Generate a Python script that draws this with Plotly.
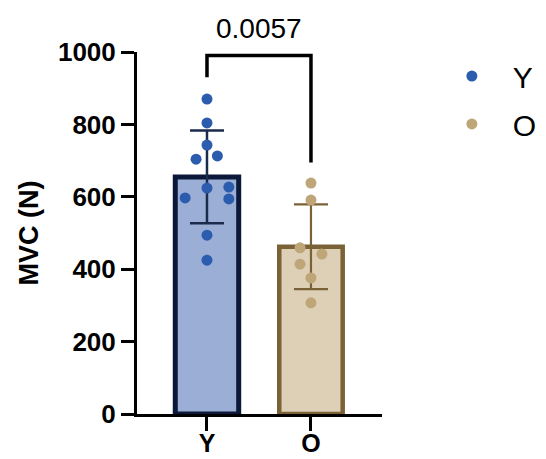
import plotly.graph_objects as go

# ---- data ----
groups = ["Y", "O"]
group_pos = [0, 1]
bar_means = [655, 462]
bar_sd = [128, 117]
y_points = [870, 804, 743, 704, 713, 624, 627, 597, 594, 494, 425]
o_points = [638, 591, 459, 442, 414, 376, 307]
p_value_label = "0.0057"
y_ticks = [0, 200, 400, 600, 800, 1000]

# jitter offsets (layout of dots, not values)
y_jitter = [0, 0, 0, -0.105, 0.1, 0, 0.21, -0.21, 0.21, 0, 0]
o_jitter = [0, 0, -0.105, 0.105, -0.105, 0, 0]

FONT = "Arial, Liberation Sans, Helvetica, sans-serif"
Y_FILL, Y_EDGE, Y_DOT = "#9AAED6", "#0B1839", "#2C5CAE"
O_FILL, O_EDGE, O_DOT = "#DDD0B6", "#7A6236", "#BFA678"

fig = go.Figure()

fig.add_trace(go.Bar(
    x=[group_pos[0]], y=[bar_means[0]], width=0.61,
    marker=dict(color=Y_FILL, line=dict(color=Y_EDGE, width=5)),
    error_y=dict(type="data", array=[bar_sd[0]], color="#1B2B4B", thickness=2.5, width=17),
    showlegend=False, hoverinfo="skip"))
fig.add_trace(go.Bar(
    x=[group_pos[1]], y=[bar_means[1]], width=0.61,
    marker=dict(color=O_FILL, line=dict(color=O_EDGE, width=4.5)),
    error_y=dict(type="data", array=[bar_sd[1]], color=O_EDGE, thickness=2.2, width=17),
    showlegend=False, hoverinfo="skip"))

fig.add_trace(go.Scatter(
    x=[group_pos[0] + j for j in y_jitter], y=y_points, mode="markers",
    marker=dict(color=Y_DOT, size=11), name=groups[0], legend="legend"))
fig.add_trace(go.Scatter(
    x=[group_pos[1] + j for j in o_jitter], y=o_points, mode="markers",
    marker=dict(color=O_DOT, size=11), name=groups[1], legend="legend2"))

# significance bracket
fig.add_trace(go.Scatter(
    x=[group_pos[0], group_pos[0], group_pos[1], group_pos[1]],
    y=[930, 990, 990, 695], mode="lines",
    line=dict(color="black", width=3.5), cliponaxis=False,
    showlegend=False, hoverinfo="skip"))
fig.add_annotation(x=0.5, y=1.066, xref="x", yref="paper", text=p_value_label,
                   showarrow=False, font=dict(family=FONT, size=28, color="black"),
                   yanchor="middle")

fig.update_layout(
    width=538, height=451,
    margin=dict(l=129, r=164, t=44, b=45, autoexpand=False),
    paper_bgcolor="white", plot_bgcolor="white",
    barmode="overlay",
    font=dict(family=FONT, color="black"),
    xaxis=dict(range=[-0.673, 1.683], tickvals=group_pos, ticktext=groups,
               showline=True, linewidth=3, linecolor="black",
               ticks="outside", ticklen=14, tickwidth=3, tickcolor="black",
               tickfont=dict(family=FONT, size=25, color="black", weight="bold"),
               ticklabelstandoff=-9,
               showgrid=False, zeroline=False, automargin=False),
    yaxis=dict(range=[0, 1000], tickvals=y_ticks,
               showline=True, linewidth=3, linecolor="black",
               ticks="outside", ticklen=13, tickwidth=3, tickcolor="black",
               tickfont=dict(family=FONT, size=26, color="black", weight="bold"),
               ticklabelstandoff=0,
               title=dict(text="MVC (N)", font=dict(family=FONT, size=27, color="black", weight="bold"),
                          standoff=12),
               showgrid=False, zeroline=False, automargin=False),
    legend=dict(xref="container", yref="container", x=0.786, y=0.849,
                xanchor="left", yanchor="middle", itemwidth=72,
                font=dict(family=FONT, size=30, color="black"), bgcolor="rgba(0,0,0,0)"),
    legend2=dict(xref="container", yref="container", x=0.786, y=0.743,
                 xanchor="left", yanchor="middle", itemwidth=72,
                 font=dict(family=FONT, size=30, color="black"), bgcolor="rgba(0,0,0,0)"),
)

fig.write_html("out.html")
